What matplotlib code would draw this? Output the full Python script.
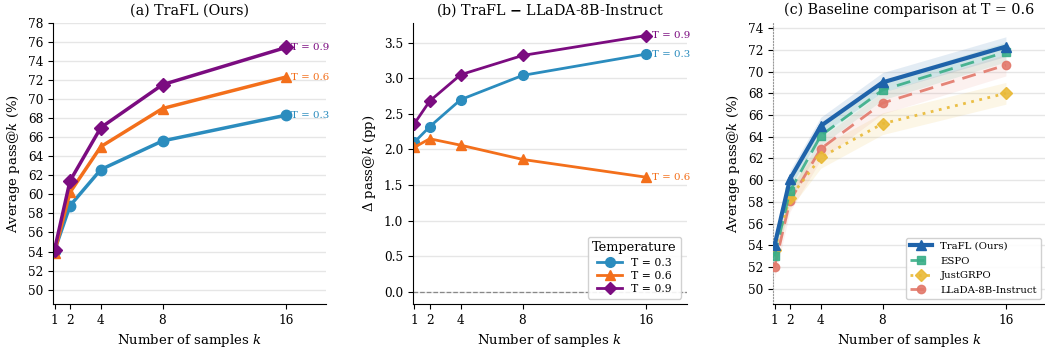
import matplotlib
matplotlib.use("Agg")
import matplotlib.pyplot as plt
import numpy as np

plt.rcParams['font.family'] = ['DejaVu Serif']
plt.rcParams['mathtext.fontset'] = 'dejavuserif'

ks = [1, 2, 4, 8, 16]
temps = ["T = 0.3", "T = 0.6", "T = 0.9"]

# (a) TraFL pass@k per temperature
trafl_t03 = [54.1, 58.8, 62.6, 65.6, 68.3]
trafl_t06 = [53.9, 60.2, 65.0, 69.0, 72.3]
trafl_t09 = [54.2, 61.4, 67.0, 71.5, 75.4]

# (b) TraFL - LLaDA delta (pp)
delta_t03 = [2.10, 2.32, 2.70, 3.04, 3.34]
delta_t06 = [2.03, 2.15, 2.06, 1.86, 1.61]
delta_t09 = [2.36, 2.68, 3.05, 3.32, 3.60]

# (c) baseline comparison at T = 0.6
methods = ["TraFL (Ours)", "ESPO", "JustGRPO", "LLaDA-8B-Instruct"]
c_trafl = [54.0, 60.1, 65.0, 69.0, 72.3]
c_espo = [53.0, 59.0, 64.1, 68.3, 71.8]
c_justgrpo = [53.6, 58.4, 62.1, 65.2, 68.0]
c_llada = [52.0, 58.1, 62.9, 67.1, 70.6]
c_trafl_err = [0.8, 0.8, 0.8, 0.9, 0.9]
c_espo_err = [0.9, 0.9, 0.9, 0.9, 0.9]
c_justgrpo_err = [1.0, 1.0, 1.0, 1.0, 1.0]
c_llada_err = [1.0, 1.0, 1.0, 1.0, 1.0]

ticks_a = list(range(50, 79, 2))
ticks_b = [0.0, 0.5, 1.0, 1.5, 2.0, 2.5, 3.0, 3.5]
ticks_c = list(range(50, 75, 2))

col_t = ["#2b8cbe", "#f36f1b", "#7b0c80"]
mk_t = ["o", "^", "D"]
col_c = ["#1f63aa", "#3aae88", "#e9b935", "#e2786a"]

fig = plt.figure(figsize=(10.45, 3.52), dpi=100)
W, H = 1045, 352
def pos(l, r, t=22.7, b=304):
    return [l / W, (H - b) / H, (r - l) / W, (b - t) / H]

ax1 = fig.add_axes(pos(53, 326))
ax2 = fig.add_axes(pos(412.7, 686.7))
ax3 = fig.add_axes(pos(773, 1046))

def style(ax):
    ax.spines['top'].set_visible(False)
    ax.spines['right'].set_visible(False)
    ax.yaxis.grid(True, color="#e6e6e6", lw=1.0)
    ax.set_axisbelow(True)
    ax.set_xticks(ks)
    ax.set_xticklabels([str(k) for k in ks])
    ax.tick_params(labelsize=8.7, length=3.5)
    ax.set_xlabel("Number of samples $k$", fontsize=9.5)
    ax.set_xlim(0.9, 18.6)

# (a)
for vals, c, m, lab in zip([trafl_t03, trafl_t06, trafl_t09], col_t, mk_t, temps):
    ax1.plot(ks, vals, color=c, marker=m, lw=2.5, ms=7.5 if m != "D" else 7, label=lab)
    ax1.annotate(lab, (ks[-1], vals[-1]), xytext=(4, 0), textcoords="offset points",
                 color=c, fontsize=7.4, va="center", ha="left")
style(ax1)
ax1.set_ylim(48.5, 78)
ax1.set_yticks(ticks_a)
ax1.set_ylabel("Average pass@$k$ (%)", fontsize=9.5)
ax1.set_title("(a) TraFL (Ours)", fontsize=10.3)

# (b)
ax2.axhline(0, color="#888888", lw=0.9, ls="--")
for vals, c, m, lab in zip([delta_t03, delta_t06, delta_t09], col_t, mk_t, temps):
    ax2.plot(ks, vals, color=c, marker=m, lw=2.0, ms=7 if m != "D" else 6.5, label=lab)
    ax2.annotate(lab, (ks[-1], vals[-1]), xytext=(4, 0), textcoords="offset points",
                 color=c, fontsize=7.4, va="center", ha="left")
style(ax2)
ax2.set_ylim(-0.17, 3.78)
ax2.set_yticks(ticks_b)
ax2.set_ylabel("$\\Delta$ pass@$k$ (pp)", fontsize=9.5)
ax2.set_title("(b) TraFL $\\boldsymbol{-}$ LLaDA-8B-Instruct", fontsize=10.3)
leg = ax2.legend(title="Temperature", loc="lower right", fontsize=7.8, title_fontsize=9.3,
                 framealpha=0.9, edgecolor="#cccccc", handlelength=2.3,
                 borderpad=0.4, labelspacing=0.3)

# (c)
series = [c_trafl, c_espo, c_justgrpo, c_llada]
errs = [c_trafl_err, c_espo_err, c_justgrpo_err, c_llada_err]
lss = ["-", (0, (5, 3)), (0, (1, 2)), (0, (5, 3))]
mks = ["^", "s", "D", "o"]
lws = [3.0, 2.0, 2.0, 2.0]
alphas_band = [0.12, 0.12, 0.12, 0.10]
for vals, e, c, ls, m, lw, ab, lab in zip(series, errs, col_c, lss, mks, lws, alphas_band, methods):
    v = np.array(vals); ee = np.array(e)
    ax3.fill_between(ks, v - ee, v + ee, color=c, alpha=ab, lw=0)
for vals, c, ls, m, lw, lab, z in zip(series[::-1], col_c[::-1], lss[::-1], mks[::-1], lws[::-1], methods[::-1], [3, 4, 5, 6]):
    ax3.plot(ks, vals, color=c, ls=ls, marker=m, lw=lw, ms=7 if m in "^" else 6,
             label=lab, zorder=z, alpha=1.0 if lab == methods[0] else 0.9)
style(ax3)
ax3.set_ylim(48.6, 74.5)
ax3.set_yticks(ticks_c)
ax3.set_ylabel("Average pass@$k$ (%)", fontsize=9.5)
ax3.set_title("(c) Baseline comparison at T = 0.6", fontsize=10.3)
ax3.spines['left'].set_color("#999999")
ax3.spines['left'].set_linestyle(":")
h, l = ax3.get_legend_handles_labels()
ax3.legend(h[::-1], l[::-1], loc="lower right", fontsize=7.3, framealpha=0.9,
           edgecolor="#cccccc", handlelength=2.2, borderpad=0.4, labelspacing=0.55)

fig.savefig("out.png", dpi=100)
